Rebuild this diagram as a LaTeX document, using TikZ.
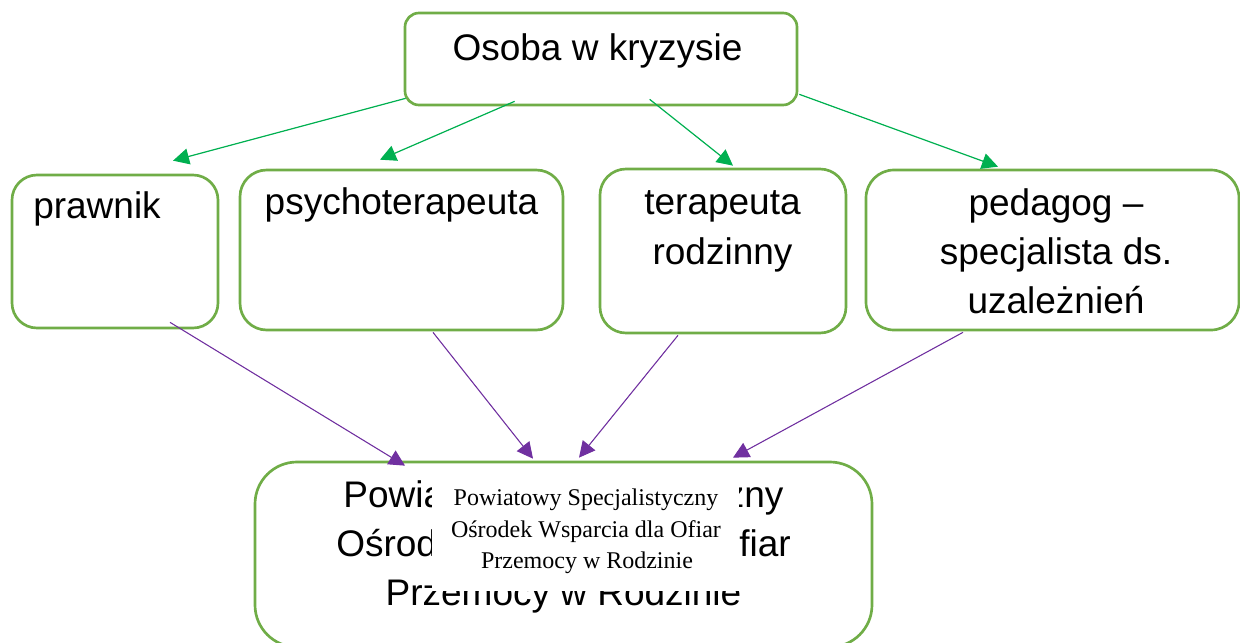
\documentclass[tikz,border=0pt]{standalone}
\usepackage{fontspec}
\setmainfont{Liberation Sans}
\newfontfamily\seriffont{Liberation Serif}
\usetikzlibrary{arrows.meta}
\definecolor{boxgreen}{RGB}{112,173,71}
\definecolor{arrgreen}{RGB}{0,176,80}
\definecolor{arrpurple}{RGB}{112,48,160}
\tikzset{
  box/.style={draw=boxgreen, line width=2pt, fill=white, rectangle, inner sep=0pt},
  big/.style={inner sep=0pt, anchor=base, font=\fontsize{27.75}{37.5}\selectfont},
  small/.style={inner sep=0pt, anchor=base, font=\seriffont\fontsize{18}{22}\selectfont},
  garrow/.style={draw=arrgreen, line width=0.9pt, -{Triangle[length=12pt,width=12pt]}, fill=arrgreen},
  parrow/.style={draw=arrpurple, line width=0.8pt, -{Triangle[length=12pt,width=12pt]}, fill=arrpurple}
}
\begin{document}
\begin{tikzpicture}[x=0.75pt,y=-0.75pt]
\useasboundingbox (0,0) rectangle (1240,643);
\clip (0,0) rectangle (1240,643);
% boxes
\node[box, rounded corners=10.5pt, minimum width=294pt, minimum height=69pt] (top) at (601,59) {};
\node[box, rounded corners=18.75pt, minimum width=154.5pt, minimum height=114.75pt] (praw) at (115,251.5) {};
\node[box, rounded corners=20pt, minimum width=242.25pt, minimum height=120pt] (psy) at (401.5,250) {};
\node[box, rounded corners=19.5pt, minimum width=184.5pt, minimum height=123pt] (ter) at (723,251) {};
\node[box, rounded corners=21pt, minimum width=279.75pt, minimum height=120pt] (ped) at (1052.5,250) {};
\node[box, rounded corners=31.5pt, minimum width=462.75pt, minimum height=138.75pt] (bot) at (563.5,554.5) {};
% texts
\node[big] (t0) at (597.5,60) {Osoba w kryzysie};
\node[big, anchor=base west] (t1) at (33,218) {prawnik};
\node[big] (t2) at (401.5,214) {psychoterapeuta};
\node[big] (t3a) at (722.5,214) {terapeuta};
\node[big] (t3b) at (722.5,264) {rodzinny};
\node[big] (t4a) at (1056,215) {pedagog –};
\node[big] (t4b) at (1056,264) {specjalista ds.};
\node[big] (t4c) at (1056,313) {uzależnień};
\node[big] (t5a) at (563.5,507) {Powiatowy Specjalistyczny};
\node[big] (t5b) at (563.5,556) {Ośrodek Wsparcia dla Ofiar};
\node[big] (t5c) at (563.5,605) {Przemocy w Rodzinie};
% white overlay with serif text
\node[fill=white, inner sep=0pt, minimum width=230.25pt, minimum height=84.75pt] (cover) at (585.5,534.5) {};
\node[small] (s1) at (586,505) {Powiatowy Specjalistyczny};
\node[small] (s2) at (586,537) {Ośrodek Wsparcia dla Ofiar};
\node[small] (s3) at (587,568) {Przemocy w Rodzinie};
% green arrows
\draw[garrow] ([shift={(2,-8)}]top.south west) -- ([shift={(58,-13)}]praw.north);
\draw[garrow] ([shift={(111,-5)}]top.south west) -- ([shift={(-21.5,-9)}]psy.north);
\draw[garrow] ([shift={(246,-7)}]top.south west) -- ([shift={(10,-2)}]ter.north);
\draw[garrow] ([shift={(1,-12)}]top.south east) -- ([shift={(-54.5,-2)}]ped.north);
% purple arrows
\draw[parrow] ([shift={(55,-7)}]praw.south) -- ([shift={(-158.5,5)}]bot.north);
\draw[parrow] ([shift={(31.5,1)}]psy.south) -- ([shift={(-30.5,-2)}]bot.north);
\draw[parrow] ([shift={(-45,1)}]ter.south) -- ([shift={(15.5,-3)}]bot.north);
\draw[parrow] ([shift={(-89.5,1)}]ped.south) -- ([shift={(169.5,-3)}]bot.north);
\end{tikzpicture}
\end{document}
